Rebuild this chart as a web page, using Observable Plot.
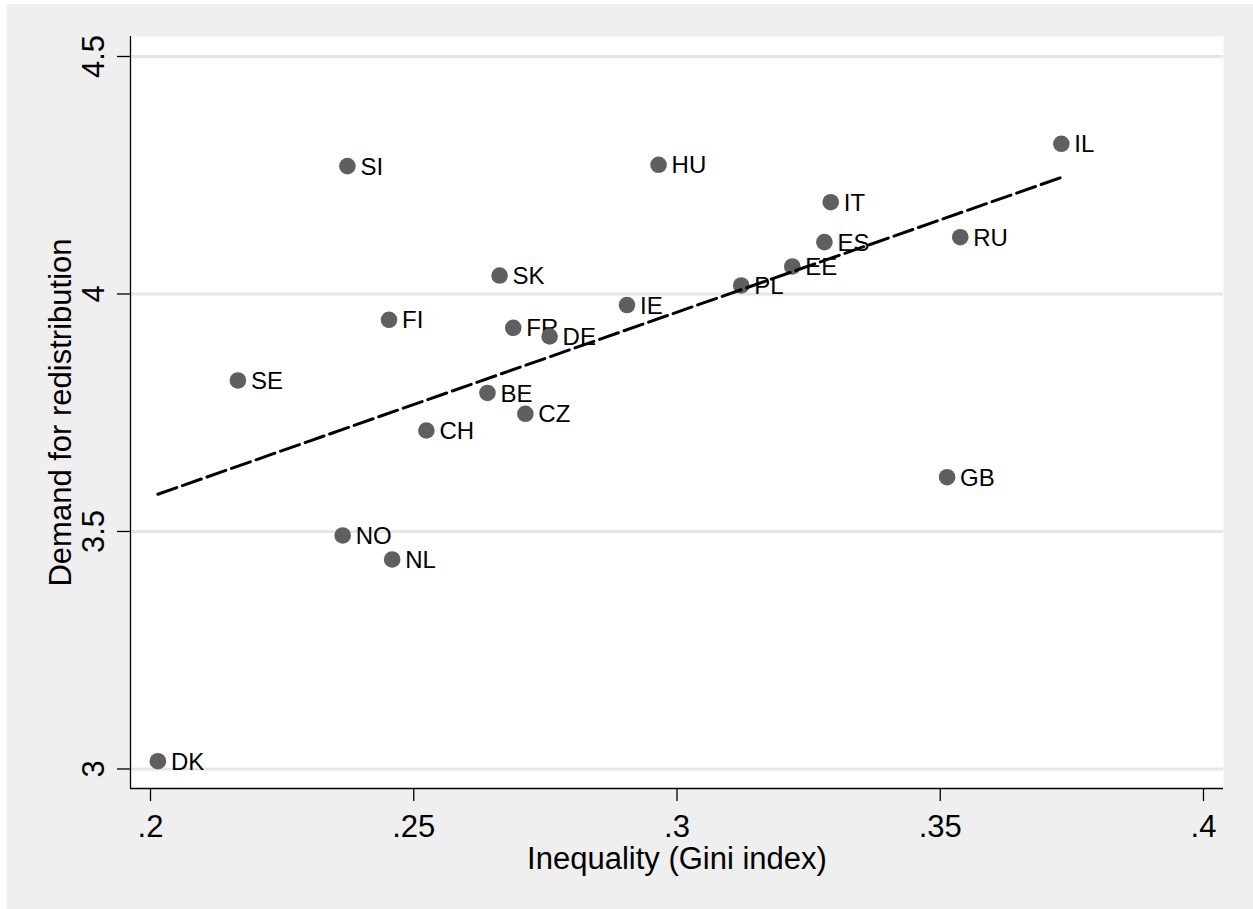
<!DOCTYPE html>
<html>
<head>
<meta charset="utf-8">
<script src="https://cdn.jsdelivr.net/npm/d3@7"></script>
<script src="https://cdn.jsdelivr.net/npm/@observablehq/plot@0.6"></script>
<style>
  html, body { margin: 0; padding: 0; background: #efefef; overflow: hidden; }
  body::before { content: ""; position: fixed; left: 0; top: 0; width: 7px; height: 100%; background: #ffffff; z-index: 2; }
  body::after { content: ""; position: fixed; left: 0; top: 0; width: 100%; height: 4px; background: #ffffff; z-index: 2; }
  #chart { position: absolute; left: 7px; top: 4px; }
  #chart svg { display: block; max-width: none; }
</style>
</head>
<body>
<div id="chart"></div>
<script>
const countries = ["DK","IL","RU","NO","NL","SI","HU","FR","DE","BE","CZ","IE","SK","FI","SE","CH","IT","ES","EE","PL","GB"];
const gini   = [0.2014,0.3730,0.3538,0.2365,0.2459,0.2374,0.2965,0.2689,0.2758,0.2640,0.2712,0.2905,0.2663,0.2453,0.2166,0.2524,0.3292,0.3280,0.3219,0.3122,0.3513];
const demand = [3.0164,4.3162,4.1196,3.4916,3.4411,4.2691,4.2720,3.9288,3.9105,3.7916,3.7478,3.9768,4.0389,3.9457,3.8179,3.7126,4.1933,4.1091,4.0579,4.0179,3.6143];

const xTicks = [0.2, 0.25, 0.3, 0.35, 0.4];
const xTickLabels = [".2", ".25", ".3", ".35", ".4"];
const yTicks = [3, 3.5, 4, 4.5];
const yTickLabels = ["3", "3.5", "4", "4.5"];

const xTitle = "Inequality (Gini index)";
const yTitle = "Demand for redistribution";

const data = countries.map((c, i) => ({country: c, gini: gini[i], demand: demand[i]}));
const xTickData = xTicks.map((v, i) => ({v, label: xTickLabels[i]}));
const yTickData = yTicks.map((v, i) => ({v, label: yTickLabels[i]}));

const xDomain = [0.19620, 0.40380];
const yDomain = [2.9589, 4.5421];

const font = "'Liberation Sans', Arial, Helvetica, sans-serif";

const chart = Plot.plot({
  width: 1246,
  height: 905,
  marginLeft: 123,
  marginTop: 32,
  marginRight: 30,
  marginBottom: 121,
  style: {background: "#efefef", fontFamily: font, color: "black"},
  x: {domain: xDomain, axis: null},
  y: {domain: yDomain, axis: null},
  marks: [
    Plot.frame({fill: "white", stroke: null}),
    Plot.ruleY(yTicks, {stroke: "#e6e6e6", strokeWidth: 3}),
    Plot.text(data, {x: "gini", y: "demand", text: "country", dx: 13, dy: 1, textAnchor: "start", lineAnchor: "middle", fontSize: 24, fill: "black"}),
    Plot.dot(data, {x: "gini", y: "demand", r: 8.3, fill: "#5f5f5f", stroke: null}),
    Plot.linearRegressionY(data, {x: "gini", y: "demand", ci: 0, stroke: "black", strokeWidth: 3, strokeDasharray: "20,6"}),
    Plot.ruleX([xDomain[0]], {stroke: "black", strokeWidth: 1.3}),
    Plot.ruleY([yDomain[0]], {stroke: "black", strokeWidth: 1.3}),
    Plot.axisX(xTicks, {anchor: "bottom", tickSize: 13, tickFormat: () => "", stroke: "black", strokeWidth: 1.3}),
    Plot.axisY(yTicks, {anchor: "left", tickSize: 13, tickFormat: () => "", stroke: "black", strokeWidth: 1.3}),
    Plot.text(xTickData, {x: "v", text: "label", frameAnchor: "bottom", dy: 48, lineAnchor: "bottom", textAnchor: "middle", fontSize: 31, fill: "black"}),
    Plot.text(yTickData, {y: "v", text: "label", frameAnchor: "left", dx: -27, rotate: -90, lineAnchor: "bottom", textAnchor: "middle", fontSize: 31, fill: "black"}),
    Plot.text([xTitle], {text: d => d, frameAnchor: "bottom", dy: 80, lineAnchor: "bottom", textAnchor: "middle", fontSize: 31, fill: "black"}),
    Plot.text([yTitle], {text: d => d, frameAnchor: "left", dx: -60, rotate: -90, lineAnchor: "bottom", textAnchor: "middle", fontSize: 31, fill: "black"})
  ]
});
document.getElementById("chart").appendChild(chart);
</script>
</body>
</html>
